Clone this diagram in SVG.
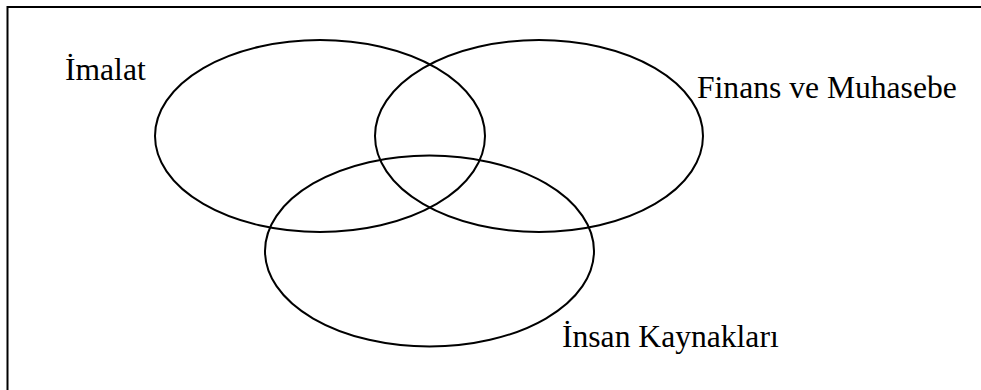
<svg xmlns="http://www.w3.org/2000/svg" width="981" height="390" viewBox="0 0 981 390">
<style>
.set{fill:none;stroke:#000;stroke-width:2}
.lbl{font-family:"Liberation Serif","Times New Roman",serif;font-size:31.6px;fill:#000}
</style>
<rect x="0" y="0" width="981" height="390" fill="#fff"/>
<rect x="7.5" y="7" width="990" height="400" fill="none" stroke="#000" stroke-width="2"/>
<g id="imalat">
<ellipse class="set" cx="320" cy="136" rx="165" ry="96"/>
<text class="lbl" x="65" y="80">İmalat</text>
</g>
<g id="finans">
<ellipse class="set" cx="539" cy="136" rx="164" ry="96"/>
<text class="lbl" x="697" y="98">Finans ve Muhasebe</text>
</g>
<g id="insan">
<ellipse class="set" cx="429.5" cy="251" rx="164.5" ry="95.5"/>
<text class="lbl" x="562" y="347">İnsan Kaynakları</text>
</g>
<g id="connectors"></g>
</svg>
